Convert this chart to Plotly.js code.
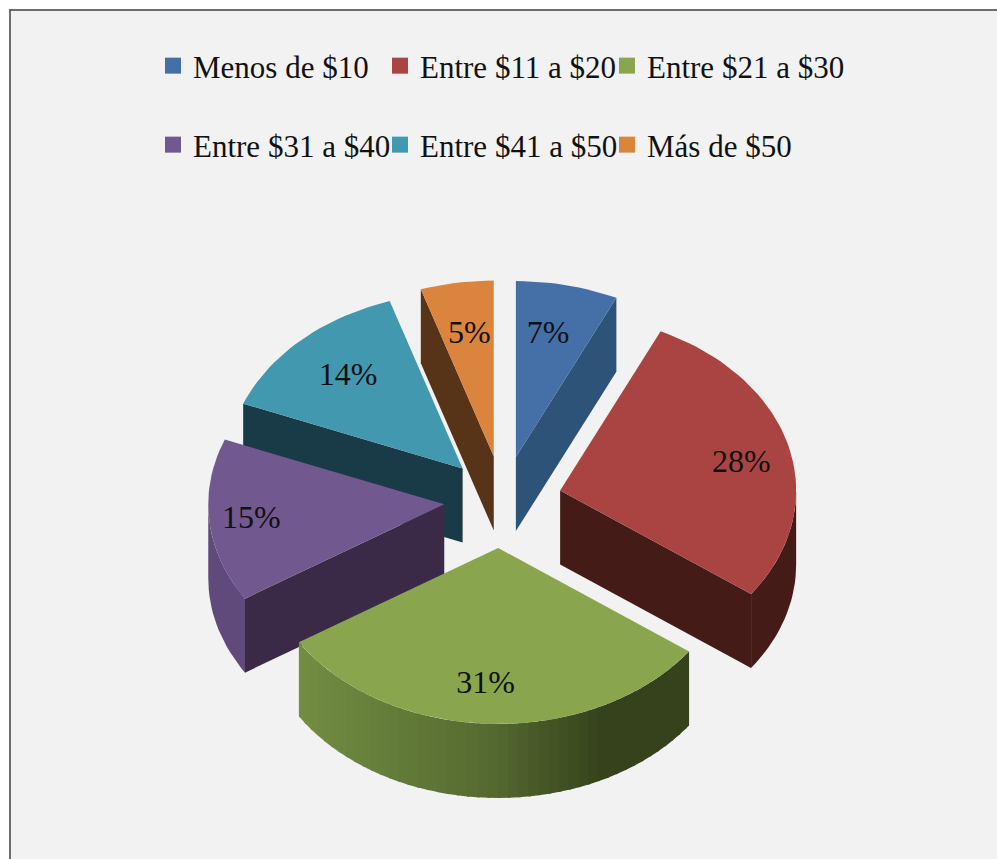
<!DOCTYPE html>
<html>
<head>
<meta charset="utf-8">
<script src="https://cdn.plot.ly/plotly-3.0.1.min.js"></script>
<style>html,body{margin:0;padding:0;background:#fff}#chart{width:997px;height:859px}</style>
</head>
<body>
<div id="chart"></div>
<script>
var categories = ["Menos de $10", "Entre $11 a $20", "Entre $21 a $30", "Entre $31 a $40", "Entre $41 a $50", "Más de $50"];
var values = [7, 28, 31, 15, 14, 5];
var topColors = ["#4570a7", "#a94442", "#89a54e", "#71588f", "#4198af", "#db843d"];
var faceColors = ["#2e5378", "#451b18", "#36421b", "#3a2a47", "#193b47", "#573418"];
var rimColors = ["#2e5378", "#451b18", "#36421b", "#604a7b", "#193b47", "#573418"];

// Projection of the exploded 3-D pie, in the pixel-like units of the hidden axes
var CX = 503, CY = 502, RX = 236, RY = 176, EX = 59, EY = 46, DEPTH = 74;
var LABEL_F = 0.74;
var sliceNudge = [[0, 0], [0, 0], [-3, 0], [0, -2], [0, 0], [0, 0]];
var labelNudge = [[-6, 5], [12, 6], [-7, 7], [-19, 3], [5, 3], [3, 7]];
var drawOrder = [5, 4, 0, 3, 1, 2];
var legendLeft = [153, 380, 607];
var legendRow = [66, 145];
var FONT = "'Liberation Serif','Times New Roman',serif";

var total = values.reduce(function (a, b) { return a + b; }, 0);
var rad = function (d) { return d * Math.PI / 180; };
var slices = [];
var acc = 0;
values.forEach(function (v, i) {
  var a0 = acc / total * 360;
  acc += v;
  var a1 = acc / total * 360;
  var mid = rad((a0 + a1) / 2);
  slices.push({
    a0: a0, a1: a1, mid: mid,
    ax: CX + EX * Math.sin(mid) + sliceNudge[i][0],
    ay: CY - EY * Math.cos(mid) + sliceNudge[i][1]
  });
});
function pt(s, a, dz) {
  return [s.ax + RX * Math.sin(rad(a)), s.ay - RY * Math.cos(rad(a)) + (dz || 0)];
}
function poly(points, color) {
  return {
    type: "scatter", mode: "lines", showlegend: false, hoverinfo: "skip",
    x: points.map(function (p) { return p[0]; }),
    y: points.map(function (p) { return p[1]; }),
    fill: "toself", fillcolor: color, line: { width: 0, color: color }
  };
}
function arc(s, a, b, dz) {
  var out = [], n = Math.max(2, Math.ceil(Math.abs(b - a) / 2));
  for (var k = 0; k <= n; k++) out.push(pt(s, a + (b - a) * k / n, dz));
  return out;
}
function rim(s, a, b, color) {
  return poly(arc(s, a, b, 0).concat(arc(s, b, a, DEPTH)), color);
}
function face(s, a, color) {
  var p = pt(s, a, 0);
  return poly([[s.ax, s.ay], p, [p[0], p[1] + DEPTH], [s.ax, s.ay + DEPTH]], color);
}
function lerpColor(stops, t) {
  for (var k = 1; k < stops.length; k++) {
    if (t <= stops[k][0] || k === stops.length - 1) {
      var A = stops[k - 1], B = stops[k];
      var u = Math.max(0, Math.min(1, (t - A[0]) / (B[0] - A[0])));
      var c = [0, 1, 2].map(function (j) { return Math.round(A[1][j] + (B[1][j] - A[1][j]) * u); });
      return "rgb(" + c.join(",") + ")";
    }
  }
}
var greenRamp = [[0, [115, 142, 66]], [0.5, [84, 105, 48]], [0.78, [54, 66, 27]], [1, [54, 66, 27]]];

var traces = [];
drawOrder.forEach(function (i) {
  var s = slices[i];
  var lo = Math.max(s.a0, 90), hi = Math.min(s.a1, 270);
  if (hi > lo) {
    if (i === 2) {
      var step = 2.5;
      for (var a = hi; a > lo; a -= step) {
        var b = Math.max(a - step - 0.6, lo);
        var xm = pt(s, (a + b) / 2, 0)[0];
        var t = (xm - pt(s, hi, 0)[0]) / (pt(s, lo, 0)[0] - pt(s, hi, 0)[0]);
        traces.push(rim(s, a, b, lerpColor(greenRamp, t)));
      }
    } else {
      traces.push(rim(s, lo, hi, rimColors[i]));
    }
  }
  if (s.a0 > 180 && s.a0 < 360) traces.push(face(s, s.a0, faceColors[i]));
  if (s.a1 > 0 && s.a1 < 180) traces.push(face(s, s.a1, faceColors[i]));
  traces.push(poly([[s.ax, s.ay]].concat(arc(s, s.a0, s.a1, 0)), topColors[i]));
});

// Percentage labels
traces.push({
  type: "scatter", mode: "text", showlegend: false, hoverinfo: "skip",
  x: slices.map(function (s, i) { return s.ax + RX * LABEL_F * Math.sin(s.mid) + labelNudge[i][0]; }),
  y: slices.map(function (s, i) { return s.ay - RY * LABEL_F * Math.cos(s.mid) + labelNudge[i][1]; }),
  text: values.map(function (v) { return v + "%"; }),
  textposition: "middle center",
  textfont: { family: FONT, size: 32, color: "#111111" },
  cliponaxis: false
});

// Legend entries: one small legend per entry, so the columns line up
function legendId(i) { return i === 0 ? "legend" : "legend" + (i + 1); }
categories.forEach(function (name, i) {
  traces.push({
    type: "scatter", mode: "markers", name: name,
    x: [null], y: [null],
    marker: { symbol: "square", size: 16, color: topColors[i] },
    legend: legendId(i)
  });
});

var layout = {
  width: 997, height: 859,
  margin: { l: 0, r: 0, t: 0, b: 0 },
  paper_bgcolor: "#ffffff", plot_bgcolor: "#ffffff",
  xaxis: { range: [0, 997], visible: false, fixedrange: true },
  yaxis: { range: [859, 0], visible: false, fixedrange: true },
  showlegend: true,
  shapes: [{
    type: "rect", xref: "x", yref: "y", x0: 10, y0: 10, x1: 1010, y1: 880,
    fillcolor: "#f2f2f2", line: { color: "#6e6e6e", width: 2 }, layer: "below"
  }]
};
categories.forEach(function (name, i) {
  layout[legendId(i)] = {
    x: legendLeft[i % 3] / 997, xanchor: "left",
    y: 1 - legendRow[Math.floor(i / 3)] / 859, yanchor: "middle",
    bgcolor: "rgba(0,0,0,0)", borderwidth: 0,
    font: { family: FONT, size: 31, color: "#111111" },
    itemsizing: "trace", itemclick: false, itemdoubleclick: false
  };
});
Plotly.newPlot("chart", traces, layout, { displayModeBar: false });
</script>
</body>
</html>
